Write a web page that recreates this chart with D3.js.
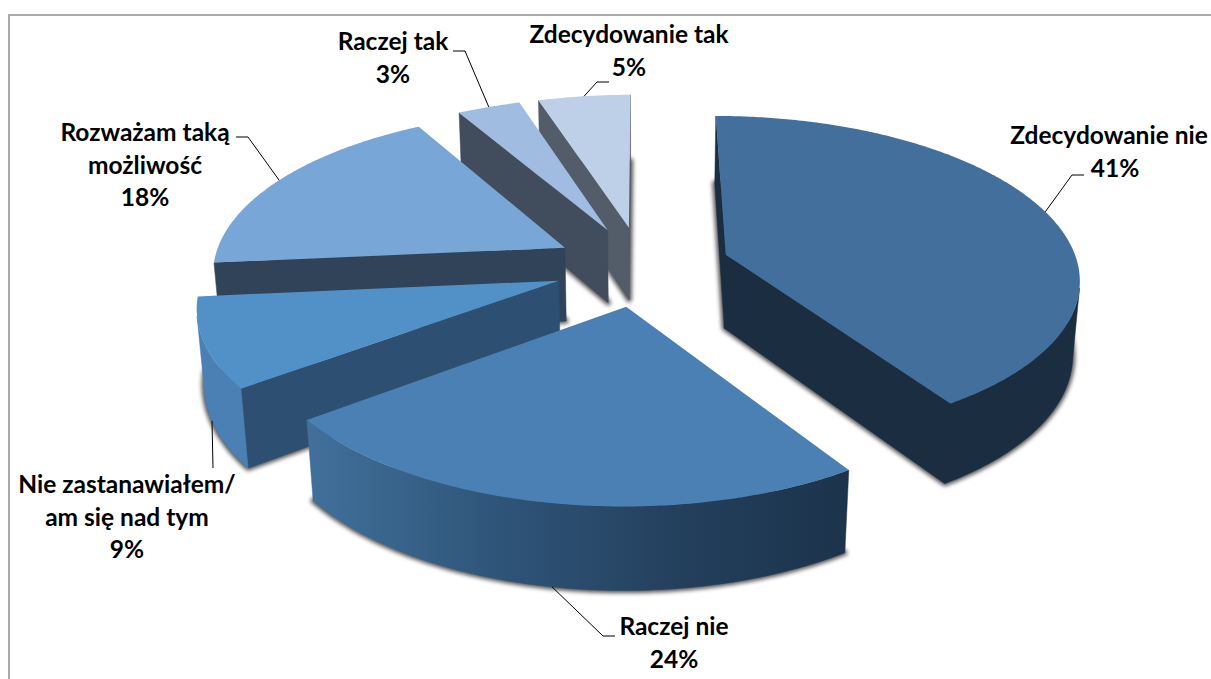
<!DOCTYPE html>
<html><head><meta charset="utf-8">
<script src="https://cdnjs.cloudflare.com/ajax/libs/d3/7.8.5/d3.min.js"></script>
<style>html,body{margin:0;padding:0;background:#fff;overflow:hidden}svg{display:block}
text{font-family:Lato,"Open Sans",sans-serif;font-weight:700;fill:#000}</style></head>
<body><svg id="c" width="1211" height="679"></svg>
<script>
const categories=["Zdecydowanie nie","Raczej nie","Nie zastanawiałem/am się nad tym","Rozważam taką możliwość","Raczej tak","Zdecydowanie tak"];
const values=[40.85,23.85,8.8,18.25,3.35,4.9];
const labelLines=[["Zdecydowanie nie"],["Raczej nie"],["Nie zastanawiałem/","am się nad tym"],["Rozważam taką","możliwość"],["Raczej tak"],["Zdecydowanie tak"]];
const topColors=["#426f9b","#4a80b4","#5291c8","#78a6d7","#a0bce0","#bdd0e8"];
const cutColors=["#1b2d40","#1d3349","#2d4f71","#304359","#414d5c","#535c69"];
const wallColors=["#1b2d40",null,"#4a80b4","#304359","#414d5c","#535c69"];
const drawOrder=[5,4,3,2,1,0];

/* label layout: anchor x, first baseline, leader elbows, leader attaches at base? */
const layout=[
 {x:1115,firstX:1109,y:144,elbows:[[1072,175],[1084,175]],base:false},
 {x:674,y:635,elbows:[[603,636],[615,636]],base:true},
 {x:127,y:493,elbows:[[213,468]],base:true},
 {x:145,y:141,elbows:[[248,137],[236,137]],base:false},
 {x:393,y:50,elbows:[[465,51],[453,51]],base:false},
 {x:629,y:43,elbows:[[597,82],[609,82]],base:false}
];
const lineStep=32.5, fontSize=24.5;

const cam={cx:642,cy:266,f:2320,d:6.58,s:0.455,c:0.89,h:0.24,explode:0.25};
const svg=d3.select("#c");
const defs=svg.append("defs");
defs.append("filter").attr("id","blur").attr("x","-20%").attr("y","-20%").attr("width","140%").attr("height","140%")
  .append("feGaussianBlur").attr("stdDeviation",2);
const grad=defs.append("linearGradient").attr("id","wall2").attr("gradientUnits","userSpaceOnUse")
  .attr("x1",302).attr("x2",851).attr("y1",0).attr("y2",0);
[[0,"#41719c"],[0.35,"#2f5579"],[0.7,"#233f5c"],[1,"#1c334b"]].forEach(([o,c])=>grad.append("stop").attr("offset",o).attr("stop-color",c));

const sx=d3.scaleLinear().domain([0,1]).range([cam.cx,cam.cx+cam.f]);
const sy=d3.scaleLinear().domain([0,1]).range([cam.cy,cam.cy-cam.f]);
function project(X,Y,Z){
  const depth=cam.d+Y*cam.c-Z*cam.s;
  return [sx(X/depth),sy((Y*cam.s+Z*cam.c)/depth)];
}
const arcs=d3.pie().sort(null)(values);
const line=d3.line();
const closed=p=>line(p)+"Z";
const area=p=>d3.polygonArea(p);

// frame
svg.append("path").attr("d",line([[9,679],[9,15],[1211,15]])).attr("fill","none").attr("stroke","#a9a9a9").attr("stroke-width",2);

function geom(a){
  const mid=(a.startAngle+a.endAngle)/2;
  const ox=cam.explode*Math.sin(mid), oy=cam.explode*Math.cos(mid);
  const P=(t,r,z)=>project(ox+r*Math.sin(t),oy+r*Math.cos(t),z);
  const n=Math.ceil((a.endAngle-a.startAngle)/0.01);
  const ts=d3.range(n+1).map(i=>a.startAngle+(a.endAngle-a.startAngle)*i/n);
  return {mid,P,ts};
}
drawOrder.forEach(i=>{
  const a=arcs[i],{P,ts}=geom(a),h=-cam.h;
  const g=svg.append("g");
  const apexT=P(0,0,0),apexB=P(0,0,h);
  // shadow: the base outline, blurred
  const base=[apexB,...ts.map(t=>P(t,1,h))];
  g.append("path").attr("d",closed(base)).attr("fill","#000").attr("stroke","#000").attr("stroke-width",5)
    .attr("stroke-linejoin","round").attr("opacity",.68).attr("filter","url(#blur)");
  // cut faces (keep those turned to the viewer)
  const s0=[apexT,P(a.startAngle,1,0),P(a.startAngle,1,h),apexB];
  const s1=[apexT,apexB,P(a.endAngle,1,h),P(a.endAngle,1,0)];
  [s0,s1].forEach(q=>{ if(area(q)>0) g.append("path").attr("d",closed(q)).attr("fill",cutColors[i]).attr("stroke",cutColors[i]).attr("stroke-width",.5); });
  // outer wall: only the part that faces the viewer
  const vis=ts.filter((t,k)=>{
    if(k===ts.length-1) return false;
    const t2=ts[k+1];
    return area([P(t,1,0),P(t,1,h),P(t2,1,h),P(t2,1,0)])<0;
  });
  if(vis.length){
    const last=ts[ts.indexOf(vis[vis.length-1])+1];
    const run=[...vis,last];
    const w=[...run.map(t=>P(t,1,0)),...run.slice().reverse().map(t=>P(t,1,h))];
    const col=i===1?"url(#wall2)":wallColors[i];
    g.append("path").attr("d",closed(w)).attr("fill",col).attr("stroke",col).attr("stroke-width",.5);
  }
  // top face
  g.append("path").attr("d",closed([apexT,...ts.map(t=>P(t,1,0))])).attr("fill",topColors[i]);
});
// leaders and labels
arcs.forEach((a,i)=>{
  const {mid,P}=geom(a),L=layout[i];
  const start=P(mid,1,L.base?-cam.h:0);
  svg.append("path").attr("d",line([start,...L.elbows])).attr("fill","none").attr("stroke","#000").attr("stroke-width",1);
  const lines=[...labelLines[i],Math.round(values[i])+"%"];
  const t=svg.append("text").attr("text-anchor","middle").attr("font-size",fontSize);
  lines.forEach((s,k)=>t.append("tspan").attr("x",k===0&&L.firstX?L.firstX:L.x).attr("y",L.y+k*lineStep).text(s));
});
</script></body></html>
